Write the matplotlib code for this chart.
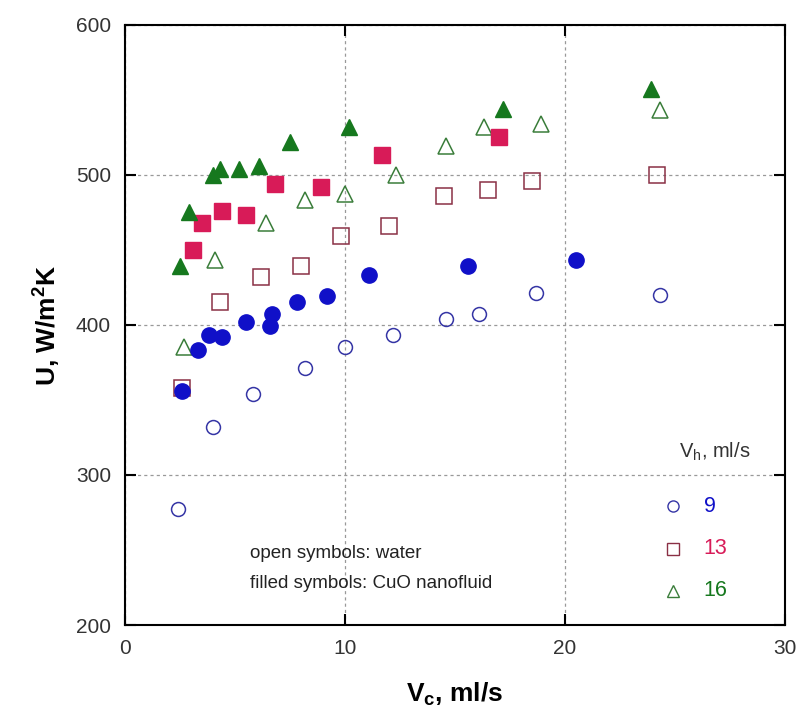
import matplotlib
matplotlib.use("Agg")
import matplotlib.pyplot as plt

plt.rcParams['font.family'] = ['Liberation Sans', 'DejaVu Sans']
plt.rcParams['mathtext.fontset'] = 'custom'
plt.rcParams['mathtext.rm'] = 'Liberation Sans'
plt.rcParams['mathtext.bf'] = 'Liberation Sans:bold'

# data: Vc (ml/s) and U (W/m2K)
# Vh = 9 ml/s
x_w9 = [2.4, 4.0, 5.8, 8.2, 10.0, 12.2, 14.6, 16.1, 18.7, 24.3]
y_w9 = [277, 332, 354, 371, 385, 393, 404, 407, 421, 420]
x_n9 = [2.6, 3.3, 3.8, 4.4, 5.5, 6.6, 6.7, 7.8, 9.2, 11.1, 15.6, 20.5]
y_n9 = [356, 383, 393, 392, 402, 399, 407, 415, 419, 433, 439, 443]

# Vh = 13 ml/s
x_w13 = [2.6, 4.3, 6.2, 8.0, 9.8, 12.0, 14.5, 16.5, 18.5, 24.2]
y_w13 = [358, 415, 432, 439, 459, 466, 486, 490, 496, 500]
x_n13 = [3.1, 3.5, 4.4, 5.5, 6.8, 8.9, 11.7, 17.0]
y_n13 = [450, 468, 476, 473, 494, 492, 513, 525]

# Vh = 16 ml/s
x_w16 = [2.7, 4.1, 6.4, 8.2, 10.0, 12.3, 14.6, 16.3, 18.9, 24.3]
y_w16 = [385, 443, 468, 483, 487, 500, 519, 532, 534, 543]
x_n16 = [2.5, 2.9, 4.0, 4.3, 5.2, 6.1, 7.5, 10.2, 17.2, 23.9]
y_n16 = [439, 475, 500, 504, 504, 506, 522, 532, 544, 557]

legend_vals = ["9", "13", "16"]

blue = "#1010c8"
blue_e = "#3535a5"
red = "#d81b58"
red_e = "#8a3045"
green = "#16781e"
green_e = "#3a7d3a"

fig = plt.figure(figsize=(8.06, 7.24), dpi=100)
ax = fig.add_axes([0.155, 0.1367, 0.819, 0.829])

ax.plot(x_w9, y_w9, 'o', ms=10, mfc='none', mec=blue_e, mew=1.1, ls='none')
ax.plot(x_w13, y_w13, 's', ms=11, mfc='none', mec=red_e, mew=1.1, ls='none')
ax.plot(x_w16, y_w16, '^', ms=11, mfc='none', mec=green_e, mew=1.1, ls='none')
ax.plot(x_n9, y_n9, 'o', ms=11, mfc=blue, mec=blue, ls='none')
ax.plot(x_n13, y_n13, 's', ms=11, mfc=red, mec=red, ls='none')
ax.plot(x_n16, y_n16, '^', ms=11, mfc=green, mec=green, ls='none')

ax.set_xlim(0, 30)
ax.set_ylim(200, 600)
ax.set_xticks([0, 10, 20, 30])
ax.set_yticks([200, 300, 400, 500, 600])
ax.grid(True, ls=(0, (2.5, 2.5)), color='#999999', lw=0.9)
ax.tick_params(direction='in', length=8, width=1.5, top=True, right=True,
               labelsize=15, labelcolor='#333333', pad=10)
for s in ax.spines.values():
    s.set_linewidth(1.5)

ax.set_xlabel(r'V$_\mathbf{c}$, ml/s', fontsize=19, fontweight='bold', labelpad=16)
ax.set_ylabel(r'U, W/m$^\mathbf{2}$K', fontsize=19, fontweight='bold', labelpad=10)

# manual legend
ax.text(0.894, 0.288, r'V$_\mathregular{h}$, ml/s', transform=ax.transAxes,
        fontsize=14.5, color='#333333', ha='center', va='center')
leg_y = [0.198, 0.127, 0.057]
leg_cols = [blue, red, green]
leg_edge = [blue_e, red_e, green_e]
leg_mark = ['o', 's', '^']
for lab, yy, c, e, m in zip(legend_vals, leg_y, leg_cols, leg_edge, leg_mark):
    ax.plot([0.83], [yy], m, ms=8, mfc='none', mec=e, mew=1.0,
            transform=ax.transAxes, clip_on=False)
    ax.text(0.877, yy, lab, transform=ax.transAxes, fontsize=15.5, color=c,
            va='center', ha='left')

ax.text(0.19, 0.12, 'open symbols: water', transform=ax.transAxes,
        fontsize=13.5, color='#222222', va='center')
ax.text(0.19, 0.07, 'filled symbols: CuO nanofluid', transform=ax.transAxes,
        fontsize=13.5, color='#222222', va='center')

fig.savefig('out.png', dpi=100)
